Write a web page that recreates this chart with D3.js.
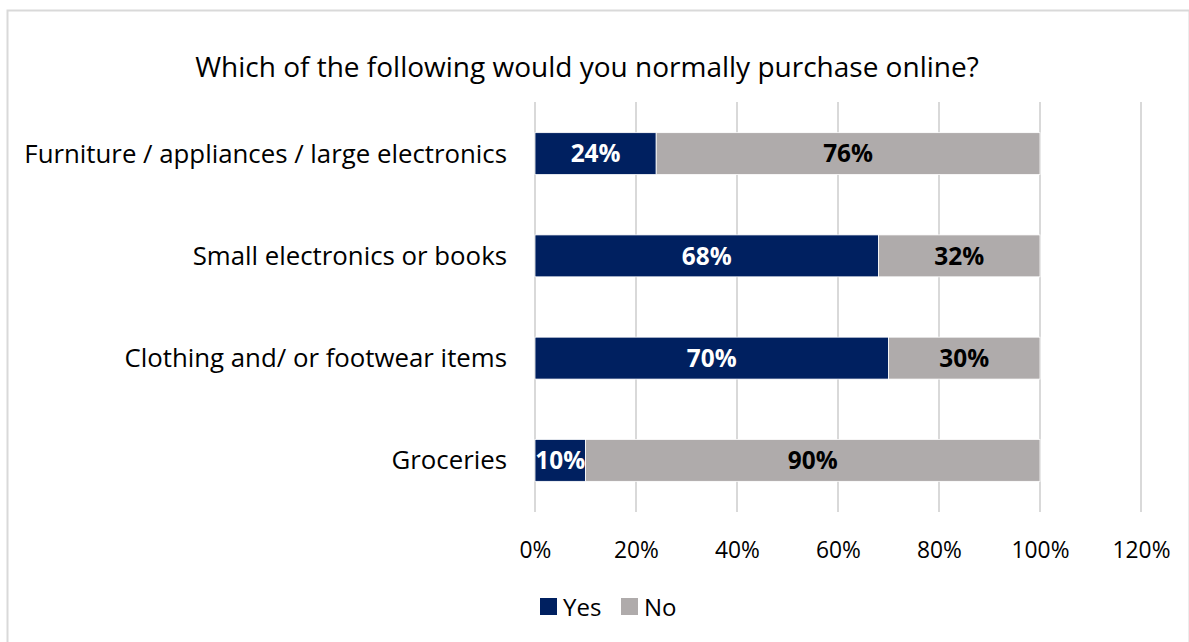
<!DOCTYPE html>
<html>
<head>
<meta charset="utf-8">
<script src="https://cdn.jsdelivr.net/npm/d3@7"></script>
<style>
  html, body { margin: 0; padding: 0; background: #fff; }
  svg { display: block; font-family: "Open Sans", Lato, sans-serif; }
</style>
</head>
<body>
<svg id="chart" width="1189" height="642"></svg>
<script>
// Survey results: share answering Yes / No per product category
const categories = [
  "Furniture / appliances / large electronics",
  "Small electronics or books",
  "Clothing and/ or footwear items",
  "Groceries"
];
const yesValues = [24, 68, 70, 10];
const noValues = [76, 32, 30, 90];
const seriesNames = ["Yes", "No"];
const tickValues = [0, 20, 40, 60, 80, 100, 120];
const title = "Which of the following would you normally purchase online?";

const colors = { Yes: "#002060", No: "#AFABAB" };
const FONT = "'Open Sans', Lato, sans-serif";

const svg = d3.select("#chart");
const W = 1189, H = 642;

// outer frame
svg.append("rect")
  .attr("x", 7.5).attr("y", 10.5)
  .attr("width", W - 7).attr("height", H)
  .attr("fill", "#fff").attr("stroke", "#d9d9d9").attr("stroke-width", 2);

const plot = { left: 535, right: 1141, top: 102, bottom: 512 };

const x = d3.scaleLinear().domain([0, 120]).range([plot.left, plot.right]);
const y = d3.scaleBand().domain(categories).range([plot.top, plot.bottom]).paddingInner(0.59).paddingOuter(0.3);

// title
svg.append("text")
  .attr("x", 587).attr("y", 77)
  .attr("text-anchor", "middle")
  .attr("font-size", 28)
  .attr("fill", "#000")
  .text(title);

// vertical gridlines
svg.append("g").selectAll("line")
  .data(tickValues)
  .join("line")
  .attr("x1", d => x(d)).attr("x2", d => x(d))
  .attr("y1", plot.top).attr("y2", plot.bottom)
  .attr("stroke", "#d9d9d9").attr("stroke-width", 2);

// x axis tick labels
const xAxis = d3.axisBottom(x).tickValues(tickValues).tickFormat(d => d + "%").tickSize(0).tickPadding(0);
const gx = svg.append("g").attr("transform", `translate(0, 558)`).call(xAxis);
gx.select(".domain").remove();
gx.selectAll("text")
  .attr("font-family", FONT)
  .attr("font-size", 22.8).attr("fill", "#000").attr("dy", 0);

// category labels
const yAxis = d3.axisLeft(y).tickSize(0).tickPadding(28);
const gy = svg.append("g").attr("transform", `translate(${plot.left}, 0)`).call(yAxis);
gy.select(".domain").remove();
gy.selectAll("text")
  .attr("font-family", FONT)
  .attr("font-size", 25.8).attr("fill", "#000").attr("dy", "0.35em");

// stacked bars
const rows = categories.map((c, i) => ({ cat: c, Yes: yesValues[i], No: noValues[i] }));
const stack = d3.stack().keys(seriesNames)(rows);

const layers = svg.append("g").selectAll("g")
  .data(stack)
  .join("g")
  .attr("fill", d => colors[d.key]);

layers.selectAll("rect")
  .data(d => d.map(s => ({ key: d.key, s })))
  .join("rect")
  .attr("x", d => x(d.s[0]))
  .attr("width", d => x(d.s[1]) - x(d.s[0]))
  .attr("y", d => y(d.s.data.cat))
  .attr("height", y.bandwidth())
  .attr("stroke", "#ffffff").attr("stroke-width", 0.8);

layers.selectAll("text")
  .data(d => d.map(s => ({ key: d.key, s })))
  .join("text")
  .attr("x", d => (x(d.s[0]) + x(d.s[1])) / 2)
  .attr("y", d => y(d.s.data.cat) + y.bandwidth() / 2)
  .attr("dy", "0.36em")
  .attr("text-anchor", "middle")
  .attr("font-size", 24.4).attr("font-weight", "bold")
  .attr("fill", d => d.key === "Yes" ? "#fff" : "#000")
  .text(d => (d.s[1] - d.s[0]) + "%");

// legend
const legend = svg.append("g").attr("transform", "translate(540, 598)");
const legendX = [0, 81];
seriesNames.forEach((k, i) => {
  const g = legend.append("g").attr("transform", `translate(${legendX[i]}, 0)`);
  g.append("rect").attr("width", 17).attr("height", 17).attr("fill", colors[k]);
  g.append("text").attr("x", 23).attr("y", 9).attr("dy", "0.36em")
    .attr("font-size", 24).attr("fill", "#000").text(k);
});
</script>
</body>
</html>
